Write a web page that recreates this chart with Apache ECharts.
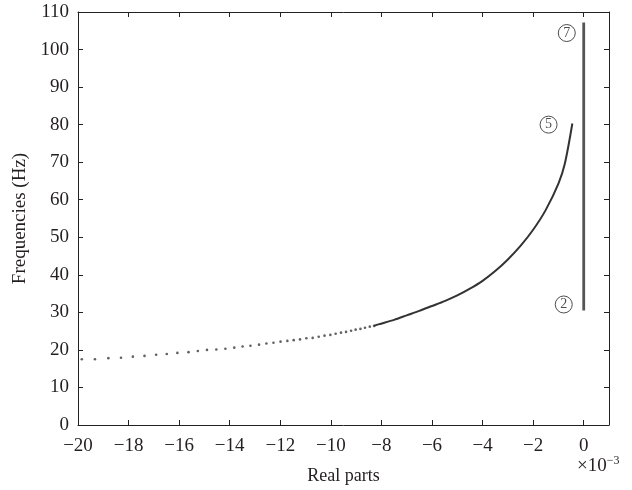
<!DOCTYPE html>
<html>
<head>
<meta charset="utf-8">
<script src="https://cdn.jsdelivr.net/npm/echarts@6/dist/echarts.min.js"></script>
<style>
  html, body { margin: 0; padding: 0; background: #fff; }
  #chart { width: 632px; height: 490px; }
</style>
</head>
<body>
<div id="chart"></div>
<script>
// sparse dots of mode 5 (real part x1e-3, frequency Hz)
var sparseX = [-19.85, -19.33, -18.80, -18.30, -17.83, -17.37, -16.91, -16.49, -16.07, -15.63,
  -15.26, -14.90, -14.53, -14.17, -13.82, -13.49, -13.18, -12.84, -12.55, -12.27,
  -11.99, -11.72, -11.47, -11.22, -10.97, -10.72, -10.48, -10.25, -10.02, -9.81,
  -9.60, -9.40, -9.20, -9.02, -8.83, -8.65, -8.46, -8.29];
var sparseY = [17.5, 17.5, 17.8, 17.9, 18.2, 18.4, 18.7, 18.9, 19.2, 19.4,
  19.7, 20.0, 20.1, 20.3, 20.6, 20.9, 21.1, 21.4, 21.7, 21.9,
  22.2, 22.4, 22.6, 22.8, 23.1, 23.2, 23.5, 23.8, 24.0, 24.3,
  24.6, 24.8, 25.1, 25.4, 25.6, 25.9, 26.2, 26.4];

// dense part of mode 5, where the dots merge into a line
var denseX = [-8.29, -8.12, -7.5, -7.0, -6.5, -6.0, -5.5, -5.0, -4.5, -4.0, -3.5, -3.0, -2.5, -2.0, -1.5, -1.0, -0.75, -0.45];
var denseY = [26.4, 26.8, 28.0, 29.2, 30.4, 31.7, 33.0, 34.5, 36.3, 38.4, 41.0, 44.1, 47.7, 52.0, 57.3, 64.3, 69.5, 80.3];

// modes 2 and 7: practically zero real part
var vertX = [0, 0];
var vertY = [30.5, 107.2];

// circled mode labels
var tagText = ['2', '5', '7'];
var tagX = [-0.79, -1.39, -0.67];
var tagY = [32.1, 80.0, 104.4];

var xTicks = [-20, -18, -16, -14, -12, -10, -8, -6, -4, -2, 0];

var FONT = '"Liberation Serif", "DejaVu Serif", serif';
var INK = '#231f20';

function pairs(xs, ys) {
  return xs.map(function (x, i) { return [x, ys[i]]; });
}

var chart = echarts.init(document.getElementById('chart'));

var frameLine = { show: true, onZero: false, lineStyle: { color: '#222', width: 1 } };
var frameTick = { show: true, inside: true, length: 5, lineStyle: { color: '#222' } };

var option = {
  animation: false,
  grid: { left: 78, right: 23, top: 12, bottom: 63 },
  xAxis: [
    {
      type: 'value', min: -20, max: 1, interval: 2,
      name: 'Real parts', nameLocation: 'middle', nameGap: 42,
      nameTextStyle: { fontFamily: FONT, fontSize: 18, color: INK },
      axisLine: frameLine,
      axisTick: frameTick,
      splitLine: { show: false },
      axisLabel: {
        fontFamily: FONT, fontSize: 19, color: INK, margin: 12,
        formatter: function (v) {
          if (xTicks.indexOf(v) < 0) return '';
          return v < 0 ? '\u2212' + Math.abs(v) : String(v);
        }
      }
    },
    {
      type: 'value', min: -20, max: 1, interval: 2, position: 'top',
      axisLine: frameLine,
      axisTick: frameTick,
      axisLabel: { show: false },
      splitLine: { show: false }
    }
  ],
  yAxis: [
    {
      type: 'value', min: 0, max: 110, interval: 10,
      name: 'Frequencies (Hz)', nameLocation: 'middle', nameGap: 42,
      nameTextStyle: { fontFamily: FONT, fontSize: 19, color: INK },
      axisLine: frameLine,
      axisTick: frameTick,
      splitLine: { show: false },
      axisLabel: { fontFamily: FONT, fontSize: 19, color: INK, margin: 9 }
    },
    {
      type: 'value', min: 0, max: 110, interval: 10, position: 'right',
      axisLine: frameLine,
      axisTick: frameTick,
      axisLabel: { show: false },
      splitLine: { show: false }
    }
  ],
  series: [
    {
      type: 'scatter',
      data: pairs(sparseX, sparseY),
      symbol: 'circle', symbolSize: 2.6,
      itemStyle: { color: '#3a3a3a' }
    },
    {
      type: 'line',
      data: pairs(denseX, denseY),
      smooth: 0.3, showSymbol: false,
      lineStyle: { color: '#333', width: 2 }
    },
    {
      type: 'line',
      data: pairs(vertX, vertY),
      showSymbol: false,
      lineStyle: { color: '#555', width: 2.8 }
    },
    {
      type: 'scatter',
      data: tagX.map(function (x, i) { return { value: [x, tagY[i]], name: tagText[i] }; }),
      symbol: 'circle', symbolSize: 17,
      itemStyle: { color: '#fff', borderColor: '#222', borderWidth: 1 },
      label: {
        show: true, position: 'inside', formatter: '{b}',
        fontFamily: FONT, fontSize: 14, color: INK
      },
      z: 5
    }
  ],
  graphic: [
    {
      type: 'text', left: 577, top: 455,
      style: {
        text: '\u00d710{s|\u22123}',
        font: '19px ' + FONT,
        fill: INK,
        rich: {
          s: { fontSize: 12, fontFamily: FONT, fill: INK, padding: [0, 0, 10, 0] }
        }
      }
    }
  ]
};

chart.setOption(option);
</script>
</body>
</html>
